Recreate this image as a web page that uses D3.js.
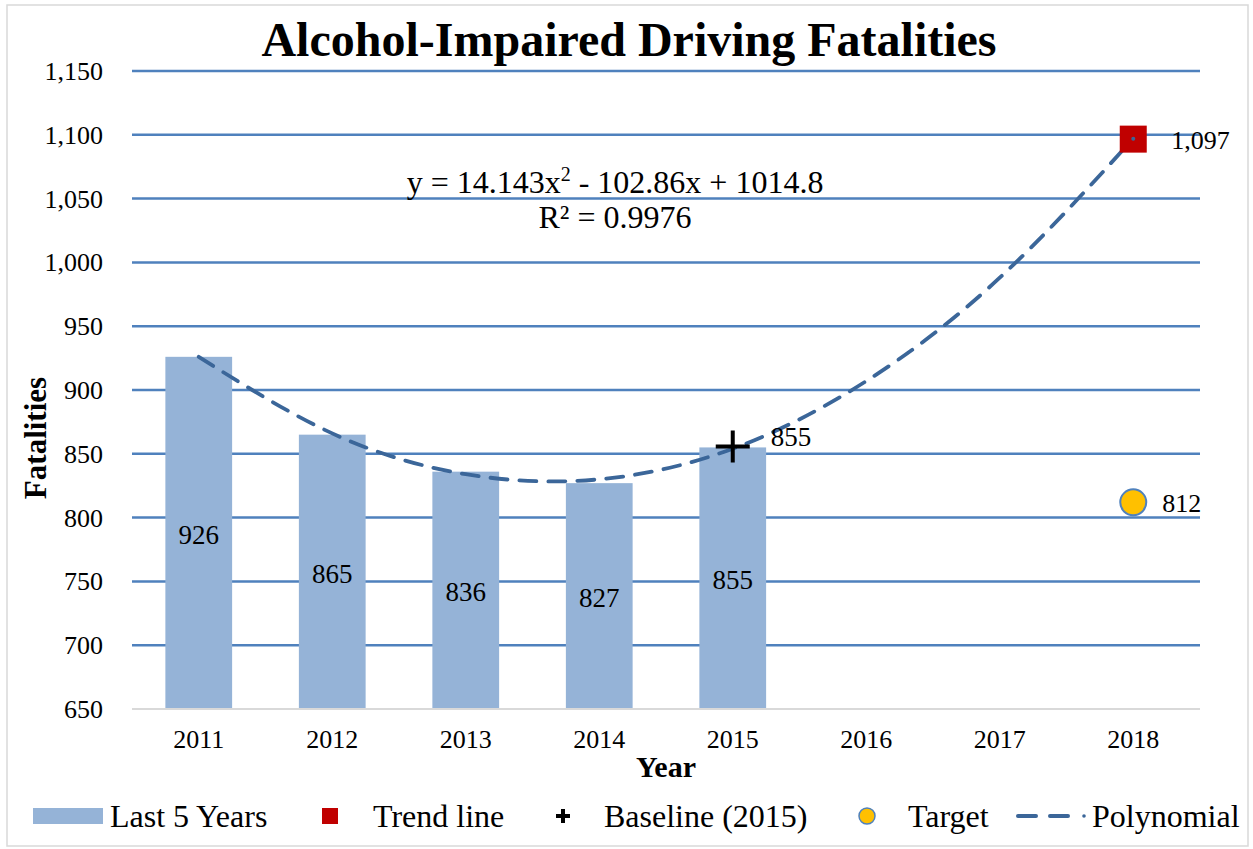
<!DOCTYPE html>
<html>
<head>
<meta charset="utf-8">
<script src="https://cdn.jsdelivr.net/npm/d3@7"></script>
<style>
  body { margin: 0; background: #fff; }
  text { font-family: "Liberation Serif", "Times New Roman", serif; fill: #000; }
</style>
</head>
<body>
<svg class="stage" width="1253" height="849"></svg>
<script>
(function () {
  var years = ['2011', '2012', '2013', '2014', '2015', '2016', '2017', '2018'];
  var lastFive = [926, 865, 836, 827, 855];
  // polynomial trend values read at each year
  var trendValues = [926, 866, 834, 830, 854, 907, 988, 1097];
  var trendPoint = { year: '2018', value: 1097, label: '1,097' };
  var baseline = { year: '2015', value: 855, label: '855' };
  var target = { year: '2018', value: 812, label: '812' };
  var yTicks = [650, 700, 750, 800, 850, 900, 950, 1000, 1050, 1100, 1150];

  var svg = d3.select('svg.stage');
  var width = +svg.attr('width');
  var height = +svg.attr('height');

  var gridColor = '#4F81BD';
  var barColor = '#95B3D7';
  var polyColor = '#3B6699';

  // outer border
  svg.append('rect')
    .attr('x', 7).attr('y', 5)
    .attr('width', width - 12).attr('height', height - 8)
    .attr('fill', 'none')
    .attr('stroke', '#d9d9d9')
    .attr('stroke-width', 1.5);

  var left = 132, right = 1200, top = 71, bottom = 709;

  var x = d3.scaleBand().domain(years).range([left, right]).paddingInner(0).paddingOuter(0);
  var y = d3.scaleLinear().domain([650, 1150]).range([bottom, top]);
  var cx = function (yr) { return x(yr) + x.bandwidth() / 2; };

  // gridlines
  svg.append('g')
    .selectAll('line')
    .data(yTicks.slice(1))
    .enter().append('line')
    .attr('x1', left).attr('x2', right)
    .attr('y1', function (d) { return y(d); })
    .attr('y2', function (d) { return y(d); })
    .attr('stroke', gridColor)
    .attr('stroke-width', 2.5);

  // bars
  var barW = x.bandwidth() * 0.5;
  svg.append('g')
    .selectAll('rect')
    .data(lastFive)
    .enter().append('rect')
    .attr('x', function (d, i) { return cx(years[i]) - barW / 2; })
    .attr('y', function (d) { return y(d); })
    .attr('width', barW)
    .attr('height', function (d) { return y(650) - y(d); })
    .attr('fill', barColor);

  svg.append('g')
    .selectAll('text')
    .data(lastFive)
    .enter().append('text')
    .attr('x', function (d, i) { return cx(years[i]); })
    .attr('y', function (d) { return (y(d) + y(650)) / 2 + 11; })
    .attr('text-anchor', 'middle')
    .attr('font-size', 27)
    .text(function (d) { return d; });

  // x axis line
  svg.append('line')
    .attr('x1', left).attr('x2', right)
    .attr('y1', bottom).attr('y2', bottom)
    .attr('stroke', '#d9d9d9')
    .attr('stroke-width', 2);

  // y tick labels
  svg.append('g')
    .selectAll('text')
    .data(yTicks)
    .enter().append('text')
    .attr('x', 103)
    .attr('y', function (d) { return y(d) + 9; })
    .attr('text-anchor', 'end')
    .attr('font-size', 26)
    .text(function (d) { return d3.format(',')(d); });

  // x tick labels
  svg.append('g')
    .selectAll('text')
    .data(years)
    .enter().append('text')
    .attr('x', function (d) { return cx(d); })
    .attr('y', 748)
    .attr('text-anchor', 'middle')
    .attr('font-size', 26)
    .text(function (d) { return d; });

  // polynomial trend
  var line = d3.line()
    .x(function (d, i) { return cx(years[i]); })
    .y(function (d) { return y(d); })
    .curve(d3.curveNatural);

  svg.append('path')
    .datum(trendValues)
    .attr('d', line)
    .attr('fill', 'none')
    .attr('stroke', polyColor)
    .attr('stroke-width', 3.8)
    .attr('stroke-linecap', 'round')
    .attr('stroke-dasharray', '17,12');

  // trend point
  svg.append('rect')
    .attr('x', cx(trendPoint.year) - 13.5)
    .attr('y', y(trendPoint.value) - 13)
    .attr('width', 27).attr('height', 27)
    .attr('fill', '#C00000');
  svg.append('circle')
    .attr('cx', cx(trendPoint.year)).attr('cy', y(trendPoint.value))
    .attr('r', 2).attr('fill', polyColor);
  svg.append('text')
    .attr('x', cx(trendPoint.year) + 38)
    .attr('y', y(trendPoint.value) + 10)
    .attr('font-size', 26)
    .text(trendPoint.label);

  // baseline cross
  var bx = cx(baseline.year), by = y(baseline.value) - 1;
  svg.append('path')
    .attr('d', 'M' + (bx - 17) + ',' + by + 'H' + (bx + 17) + 'M' + bx + ',' + (by - 16) + 'V' + (by + 16))
    .attr('stroke', '#000')
    .attr('stroke-width', 4);
  svg.append('text')
    .attr('x', bx + 38)
    .attr('y', y(baseline.value) - 1)
    .attr('font-size', 27)
    .text(baseline.label);

  // target
  svg.append('circle')
    .attr('cx', cx(target.year)).attr('cy', y(target.value))
    .attr('r', 13)
    .attr('fill', '#FFC000')
    .attr('stroke', gridColor)
    .attr('stroke-width', 2);
  svg.append('text')
    .attr('x', cx(target.year) + 29)
    .attr('y', y(target.value) + 10)
    .attr('font-size', 26)
    .text(target.label);

  // equation
  var eq = svg.append('text')
    .attr('x', 615).attr('y', 193)
    .attr('text-anchor', 'middle')
    .attr('font-size', 32);
  eq.append('tspan').text('y = 14.143x');
  eq.append('tspan').attr('dy', -12).attr('font-size', 20).text('2');
  eq.append('tspan').attr('dy', 12).text(' - 102.86x + 1014.8');
  svg.append('text')
    .attr('x', 615).attr('y', 228)
    .attr('text-anchor', 'middle')
    .attr('font-size', 32)
    .text('R\u00B2 = 0.9976');

  // title
  svg.append('text')
    .attr('x', 629).attr('y', 56)
    .attr('text-anchor', 'middle')
    .attr('font-size', 48)
    .attr('font-weight', 'bold')
    .text('Alcohol-Impaired Driving Fatalities');

  // axis titles
  svg.append('text')
    .attr('transform', 'translate(46,438) rotate(-90)')
    .attr('text-anchor', 'middle')
    .attr('font-size', 31)
    .attr('font-weight', 'bold')
    .text('Fatalities');
  svg.append('text')
    .attr('x', 666).attr('y', 777)
    .attr('text-anchor', 'middle')
    .attr('font-size', 30)
    .attr('font-weight', 'bold')
    .text('Year');

  // legend
  var ly = 816;
  var lg = svg.append('g');
  lg.append('rect').attr('x', 33).attr('y', ly - 8).attr('width', 70).attr('height', 16).attr('fill', barColor);
  lg.append('text').attr('x', 110).attr('y', ly + 11).attr('font-size', 32).text('Last 5 Years');
  lg.append('rect').attr('x', 322).attr('y', ly - 8).attr('width', 16).attr('height', 16).attr('fill', '#C00000');
  lg.append('text').attr('x', 373).attr('y', ly + 11).attr('font-size', 32).text('Trend line');
  lg.append('path')
    .attr('d', 'M556,' + ly + 'H570M563,' + (ly - 7) + 'V' + (ly + 7))
    .attr('stroke', '#000').attr('stroke-width', 4);
  lg.append('text').attr('x', 604).attr('y', ly + 11).attr('font-size', 32).text('Baseline (2015)');
  lg.append('circle').attr('cx', 867).attr('cy', ly).attr('r', 8)
    .attr('fill', '#FFC000').attr('stroke', gridColor).attr('stroke-width', 1.5);
  lg.append('text').attr('x', 908).attr('y', ly + 11).attr('font-size', 32).text('Target');
  lg.append('path')
    .attr('d', 'M1018,' + ly + 'H1072')
    .attr('stroke', polyColor).attr('stroke-width', 4)
    .attr('stroke-linecap', 'round')
    .attr('stroke-dasharray', '18,14');
  lg.append('circle').attr('cx', 1084).attr('cy', ly).attr('r', 1.8).attr('fill', polyColor);
  lg.append('text').attr('x', 1092).attr('y', ly + 11).attr('font-size', 32).text('Polynomial');
})();
</script>
</body>
</html>
